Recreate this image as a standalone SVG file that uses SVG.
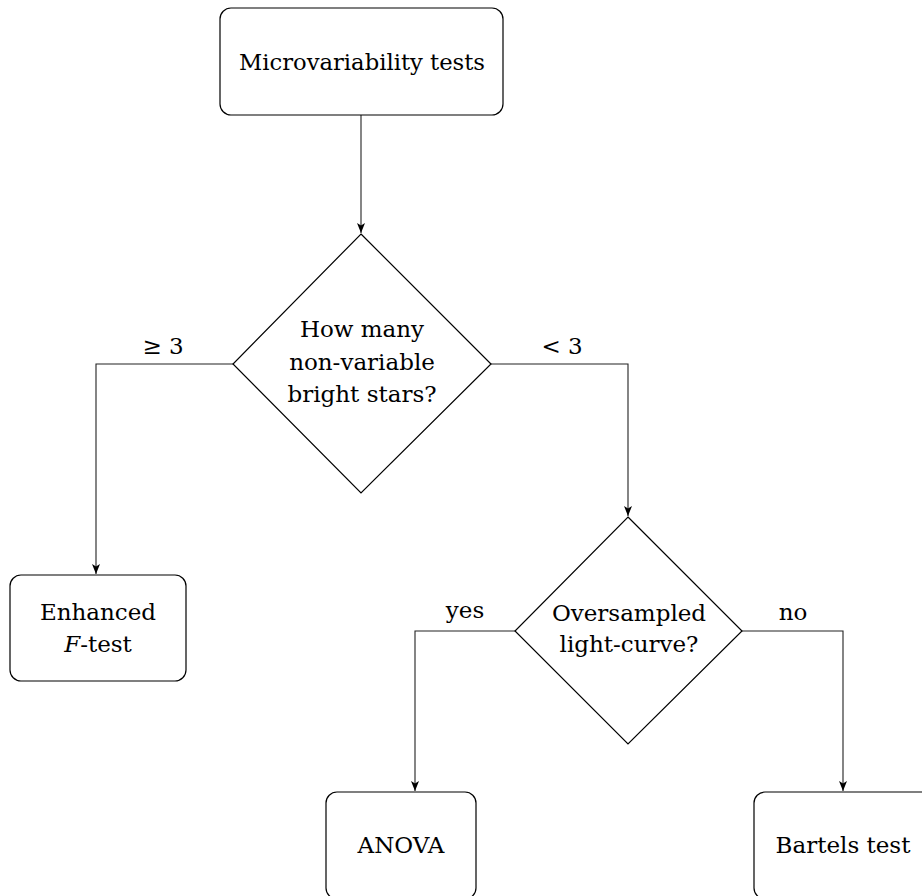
<svg xmlns="http://www.w3.org/2000/svg" width="922" height="896" viewBox="0 0 922 896">
<defs>
<marker id="arr" viewBox="0 0 10 8" refX="10" refY="4" markerWidth="10" markerHeight="8" markerUnits="userSpaceOnUse" orient="auto">
<path d="M0,0 L10,4 L0,8 L2.5,4 Z" fill="#000"/>
</marker>
</defs>
<style>
.box{fill:#fff;stroke:#000;stroke-width:1.2}
.dia{fill:#fff;stroke:#000;stroke-width:1.2}
text{font-family:'DejaVu Serif','Liberation Serif',serif;font-size:23px;fill:#000;text-anchor:middle}
.c{fill:none;stroke:#222;stroke-width:1.1}
</style>
<g id="connectors">
<path class="c" d="M361,115 L361,233" marker-end="url(#arr)"/>
<path class="c" d="M233,364 L96,364 L96,574" marker-end="url(#arr)"/>
<path class="c" d="M491,364 L628,364 L628,516" marker-end="url(#arr)"/>
<path class="c" d="M515,631 L415,631 L415,791" marker-end="url(#arr)"/>
<path class="c" d="M742,631 L843,631 L843,791" marker-end="url(#arr)"/>
<text x="163" y="354">≥ 3</text>
<text x="562" y="354">&lt; 3</text>
<text x="465" y="618">yes</text>
<text x="793" y="620">no</text>
</g>
<g id="start">
<rect class="box" x="220" y="8" width="283" height="107" rx="11"/>
<text x="362" y="70" textLength="246" lengthAdjust="spacingAndGlyphs">Microvariability tests</text>
</g>
<g id="q1">
<polygon class="dia" points="361,234 491,364 361,493 233,364"/>
<text x="362" y="337">How many</text>
<text x="362" y="370">non-variable</text>
<text x="362" y="402">bright stars?</text>
</g>
<g id="ftest">
<rect class="box" x="10" y="575" width="176" height="106" rx="11"/>
<text x="98" y="620">Enhanced</text>
<text x="98" y="652"><tspan font-style="italic">F</tspan>-test</text>
</g>
<g id="q2">
<polygon class="dia" points="628,517 742,631 628,744 515,631"/>
<text x="629" y="621">Oversampled</text>
<text x="629" y="652">light-curve?</text>
</g>
<g id="anova">
<rect class="box" x="326" y="792" width="150" height="107" rx="11"/>
<text x="401" y="853">ANOVA</text>
</g>
<g id="bartels">
<rect class="box" x="754" y="792" width="190" height="107" rx="11"/>
<text x="843" y="853">Bartels test</text>
</g>
</svg>
